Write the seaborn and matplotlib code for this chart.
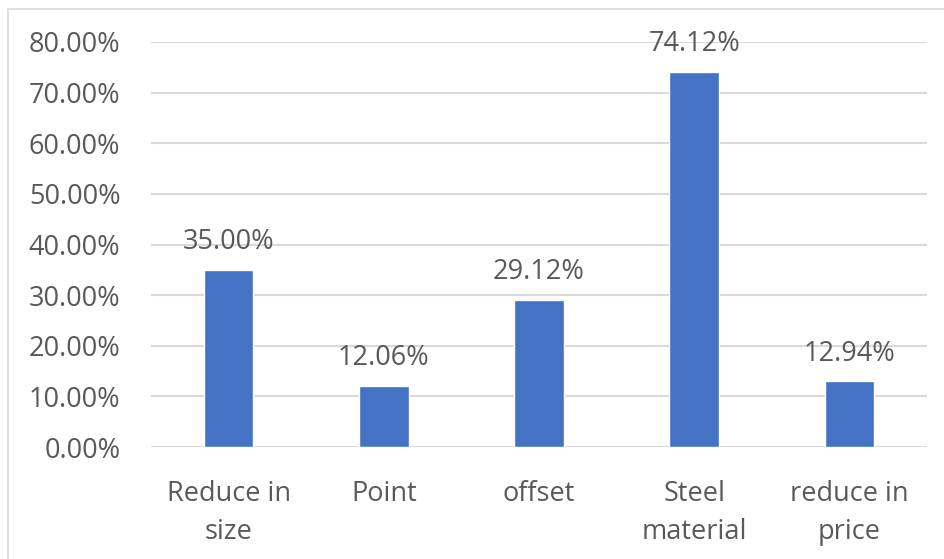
import matplotlib.pyplot as plt
import matplotlib.patches as mpatches
import seaborn as sns
from matplotlib.ticker import FuncFormatter

# Chart data.
categories = ["Reduce in\nsize", "Point", "offset", "Steel\nmaterial", "reduce in\nprice"]
values = [0.3500, 0.1206, 0.2912, 0.7412, 0.1294]

sns.set_theme(style="white")
plt.rcParams["font.family"] = ["Open Sans", "DejaVu Sans"]

text_color = "#595959"
grid_color = "#D9D9D9"
bar_color = "#4472C4"

fig = plt.figure(figsize=(9.44, 5.59), dpi=100)
fig.patches.append(mpatches.Rectangle((8 / 944, -0.01), 1.0, (559 - 9) / 559 + 0.01,
                                      transform=fig.transFigure, fill=False,
                                      edgecolor=grid_color, linewidth=1.2))
ax = fig.add_axes([151 / 944, (559 - 447) / 559, 776 / 944, 405 / 559])

sns.barplot(x=categories, y=values, color=bar_color, width=0.32, saturation=1, ax=ax)

ax.set_ylim(0, 0.8)
ax.set_yticks([i / 10 for i in range(9)])
ax.yaxis.set_major_formatter(FuncFormatter(lambda v, _: f"{v * 100:.2f}%"))
ax.yaxis.grid(True, color=grid_color, linewidth=1.5)
ax.set_axisbelow(True)
for s in ax.spines.values():
    s.set_visible(False)
ax.tick_params(axis="both", length=0, labelsize=19.5, colors=text_color)
ax.tick_params(axis="y", pad=22)
ax.tick_params(axis="x", pad=24)
for lbl in ax.get_xticklabels():
    lbl.set_linespacing(1.45)

for i, v in enumerate(values):
    ax.annotate(f"{v * 100:.2f}%", (i, v), xytext=(0, 10), textcoords="offset points",
                ha="center", va="bottom", fontsize=19.5, color=text_color)

fig.savefig("out.png", dpi=100)
